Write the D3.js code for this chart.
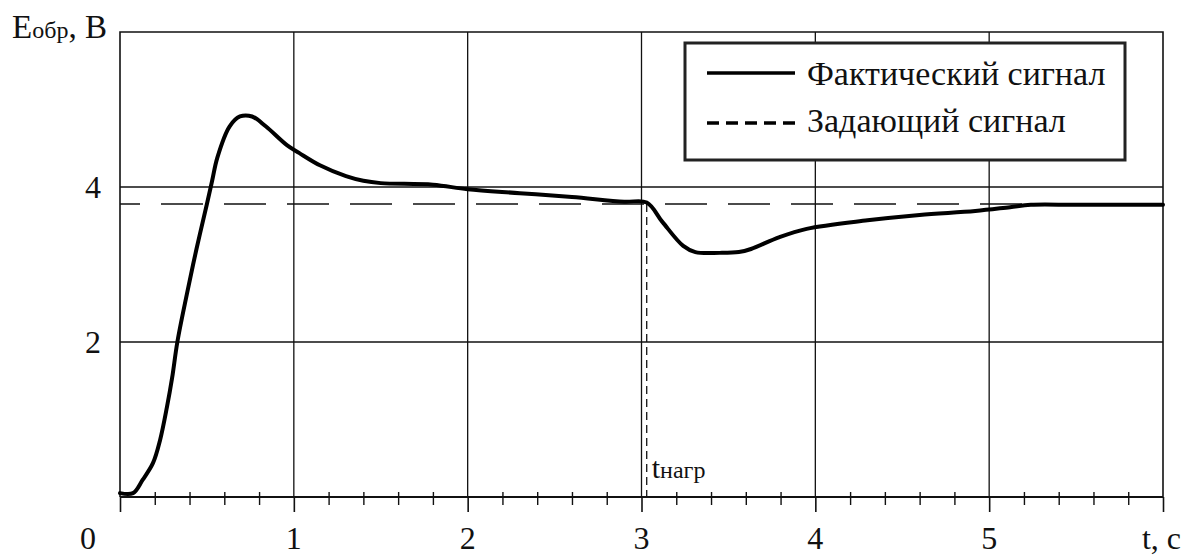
<!DOCTYPE html>
<html>
<head>
<meta charset="utf-8">
<script src="https://cdn.jsdelivr.net/npm/d3@7"></script>
<style>
  html, body { margin: 0; padding: 0; background: #fff; }
  svg { display: block; }
  text { font-family: "Liberation Serif", "Times New Roman", serif; fill: #111; }
</style>
</head>
<body>
<svg id="chart" width="1184" height="557"></svg>
<script>
// Time axis, seconds
const timeValues = [0, 0.075, 0.13, 0.19, 0.23, 0.27, 0.30, 0.33, 0.385, 0.44, 0.50, 0.53, 0.56, 0.63, 0.69, 0.76, 0.84, 0.96, 1.03, 1.15, 1.3, 1.4, 1.5, 1.8, 2.0, 2.3, 2.6, 2.9, 3.03, 3.12, 3.24, 3.31, 3.45, 3.56, 3.63, 3.79, 3.95, 4.3, 4.6, 4.92, 5.12, 5.24, 5.5, 6.0];
// Actual feedback signal, V
const actualSignal = [0.05, 0.05, 0.22, 0.44, 0.73, 1.16, 1.54, 2.0, 2.62, 3.2, 3.78, 4.08, 4.38, 4.78, 4.91, 4.91, 4.78, 4.54, 4.44, 4.28, 4.14, 4.08, 4.05, 4.03, 3.97, 3.92, 3.87, 3.81, 3.8, 3.55, 3.24, 3.16, 3.15, 3.16, 3.2, 3.35, 3.46, 3.57, 3.64, 3.69, 3.74, 3.77, 3.77, 3.77];
// Reference (set-point) signal, V
const referenceLevel = 3.78;
// Moment the load is applied, s
const loadTime = 3.03;

const xMajorTicks = [1, 2, 3, 4, 5];
const xTickLabels = ["1", "2", "3", "4", "5"];
const yGridValues = [2, 4];
const yTickLabels = ["2", "4"];
const legendLabels = ["Фактический сигнал", "Задающий сигнал"];

const svg = d3.select("#chart");
const x = d3.scaleLinear().domain([0, 6]).range([120, 1163]);
const y = d3.scaleLinear().domain([0, 6]).range([497, 32]);

const ink = "#111";

// Grid
svg.append("g").selectAll("line").data(xMajorTicks).join("line")
  .attr("x1", d => x(d)).attr("x2", d => x(d))
  .attr("y1", y(6)).attr("y2", y(0))
  .attr("stroke", ink).attr("stroke-width", 1.3);
svg.append("g").selectAll("line").data(yGridValues).join("line")
  .attr("x1", x(0)).attr("x2", x(6))
  .attr("y1", d => y(d)).attr("y2", d => y(d))
  .attr("stroke", ink).attr("stroke-width", 1.3);

// Frame (top, right, left)
svg.append("path")
  .attr("d", `M${x(0)},${y(0)}V${y(6)}H${x(6)}V${y(0)}`)
  .attr("fill", "none").attr("stroke", ink).attr("stroke-width", 1.6);

// Bottom axis with major and minor ticks
const minorTicks = d3.range(0, 30).map(i => i / 5).filter(v => Math.abs(v - Math.round(v)) > 1e-6);
const axisMinor = d3.axisBottom(x).tickValues(minorTicks).tickSizeInner(8).tickSizeOuter(0).tickFormat("");
const gMinor = svg.append("g").attr("transform", `translate(0,${y(0)})`).call(axisMinor);
gMinor.select(".domain").remove();
gMinor.selectAll(".tick line").attr("y1", -5).attr("y2", 8).attr("stroke", ink).attr("stroke-width", 1.4);

const axisMajor = d3.axisBottom(x).tickValues([0, 1, 2, 3, 4, 5, 6]).tickSizeInner(15).tickSizeOuter(0).tickFormat("");
const gMajor = svg.append("g").attr("transform", `translate(0,${y(0)})`).call(axisMajor);
gMajor.select(".domain").attr("stroke", ink).attr("stroke-width", 1.8).attr("d", `M${x(0)},0H${x(6)}`);
gMajor.selectAll(".tick line").attr("stroke", ink).attr("stroke-width", 1.6);

// Tick labels
const labelBase = 549;
svg.append("g").selectAll("text").data(xMajorTicks).join("text")
  .attr("x", d => x(d)).attr("y", labelBase)
  .attr("text-anchor", "middle").attr("font-size", 32)
  .text((d, i) => xTickLabels[i]);
svg.append("text").attr("x", 88).attr("y", labelBase).attr("text-anchor", "middle").attr("font-size", 32).text("0");
svg.append("text").attr("x", 1181).attr("y", labelBase).attr("text-anchor", "end").attr("font-size", 32).text("t, c");

svg.append("g").selectAll("text").data(yGridValues).join("text")
  .attr("x", 101).attr("y", d => y(d) + 11)
  .attr("text-anchor", "end").attr("font-size", 32)
  .text((d, i) => yTickLabels[i]);

// Axis title
const yTitle = svg.append("text").attr("x", 12).attr("y", 38).attr("font-size", 33);
yTitle.append("tspan").text("E");
yTitle.append("tspan").attr("font-size", 24).text("обр");
yTitle.append("tspan").text(", B");

// Reference level
svg.append("line")
  .attr("x1", x(0)).attr("x2", x(6))
  .attr("y1", y(referenceLevel)).attr("y2", y(referenceLevel))
  .attr("stroke", ink).attr("stroke-width", 1.5)
  .attr("stroke-dasharray", "42,21").attr("stroke-dashoffset", 22);

// Load instant marker
svg.append("line")
  .attr("x1", x(loadTime)).attr("x2", x(loadTime))
  .attr("y1", y(referenceLevel)).attr("y2", y(0))
  .attr("stroke", ink).attr("stroke-width", 1.3)
  .attr("stroke-dasharray", "8,5");
const loadLabel = svg.append("text").attr("x", x(loadTime) + 5).attr("y", 478).attr("font-size", 30);
loadLabel.append("tspan").text("t");
loadLabel.append("tspan").attr("font-size", 24).text("нагр");

// Actual signal curve
const pts = timeValues.map((t, i) => [t, actualSignal[i]]);
const line = d3.line().x(d => x(d[0])).y(d => y(d[1])).curve(d3.curveCatmullRom.alpha(0.5));
svg.append("path").datum(pts)
  .attr("d", line)
  .attr("fill", "none").attr("stroke", "#000").attr("stroke-width", 4)
  .attr("stroke-linejoin", "round").attr("stroke-linecap", "round");

// Legend
const lg = svg.append("g");
lg.append("rect").attr("x", 685).attr("y", 43).attr("width", 440).attr("height", 117)
  .attr("fill", "#fff").attr("stroke", "#222").attr("stroke-width", 3);
lg.append("line").attr("x1", 707).attr("x2", 795).attr("y1", 73).attr("y2", 73)
  .attr("stroke", "#000").attr("stroke-width", 3.5);
lg.append("line").attr("x1", 707).attr("x2", 795).attr("y1", 123).attr("y2", 123)
  .attr("stroke", "#000").attr("stroke-width", 3.5).attr("stroke-dasharray", "12,7");
lg.selectAll("text.lab").data(legendLabels).join("text").attr("class", "lab")
  .attr("x", 807).attr("y", (d, i) => 85 + i * 47)
  .attr("font-size", 34)
  .text(d => d);
</script>
</body>
</html>
